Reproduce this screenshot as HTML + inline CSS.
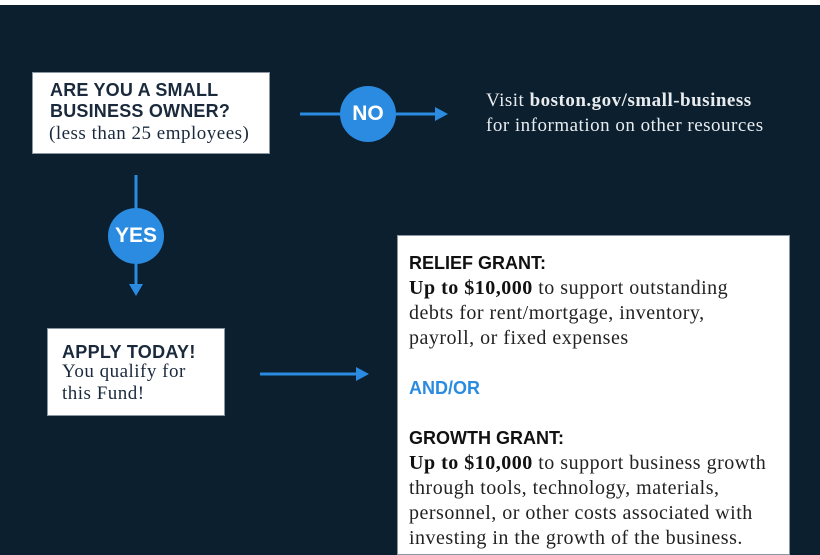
<!DOCTYPE html>
<html><head><meta charset="utf-8"><style>
*{margin:0;padding:0;box-sizing:border-box}
body{width:820px;height:545px;overflow:hidden;background:#0b1f2f;position:relative;font-family:"Liberation Serif",serif}
.top{position:absolute;left:0;top:0;width:820px;height:5px;background:#fff}
.box{position:absolute;background:#fff;border:1px solid #8a97a3}
.sans{font-family:"Liberation Sans",sans-serif;font-weight:bold}
.t{position:absolute;white-space:nowrap}
.navy{color:#1a2a3c}
.circ{position:absolute;width:56px;height:56px;border-radius:50%;background:#2a8be0;color:#fff;font-family:"Liberation Sans",sans-serif;font-weight:bold;font-size:21px;text-align:center;line-height:56px}
.bl{color:#111}
</style></head><body>
<div class="top"></div>
<svg style="position:absolute;left:0;top:0" width="820" height="545">
<g stroke="#2a8be0" stroke-width="3" fill="none">
<line x1="300" y1="114" x2="437" y2="114"/>
<line x1="136" y1="175" x2="136" y2="287"/>
<line x1="260" y1="374" x2="358" y2="374"/>
</g>
<g fill="#2a8be0">
<polygon points="435,107 448,114 435,121"/>
<polygon points="129,284 136,296 143,284"/>
<polygon points="356,367 369,374 356,381"/>
</g>
</svg>
<div class="box" style="left:32px;top:72px;width:238px;height:82px"></div>
<div class="t sans navy" style="left:50px;top:80px;font-size:18px;line-height:21px;letter-spacing:0.2px">ARE YOU A SMALL<br>BUSINESS OWNER?</div>
<div class="t navy" style="left:49px;top:123px;font-size:19px;line-height:22px;letter-spacing:0.5px">(less than 25 employees)</div>
<div class="circ" style="left:340px;top:86px">NO</div>
<div class="circ" style="left:108px;top:208px">YES</div>
<div class="t" style="left:486px;top:88px;font-size:19px;line-height:25px;color:#e8ecef;letter-spacing:0.5px">Visit <b>boston.gov/small-business</b><br>for information on other resources</div>
<div class="box" style="left:47px;top:328px;width:178px;height:88px"></div>
<div class="t sans navy" style="left:62px;top:342px;font-size:18px;line-height:20px;letter-spacing:0.3px">APPLY TODAY!</div>
<div class="t navy" style="left:62px;top:361px;font-size:19px;line-height:22px;letter-spacing:0.5px">You qualify for<br>this Fund!</div>
<div class="box" style="left:397px;top:235px;width:393px;height:320px"></div>
<div class="t" style="left:409px;top:251px;font-size:20px;line-height:25px;color:#222;letter-spacing:0.5px">
<div class="sans bl" style="font-size:18px;letter-spacing:0">RELIEF GRANT:</div>
<div><b class="bl">Up to $10,000</b> to support outstanding<br>debts for rent/mortgage, inventory,<br>payroll, or fixed expenses</div>
<div style="height:25px"></div>
<div class="sans" style="font-size:18px;color:#2a8be0;letter-spacing:0">AND/OR</div>
<div style="height:25px"></div>
<div class="sans bl" style="font-size:18px;letter-spacing:0">GROWTH GRANT:</div>
<div><b class="bl">Up to $10,000</b> to support business growth<br>through tools, technology, materials,<br>personnel, or other costs associated with<br>investing in the growth of the business.</div>
</div>
</body></html>
